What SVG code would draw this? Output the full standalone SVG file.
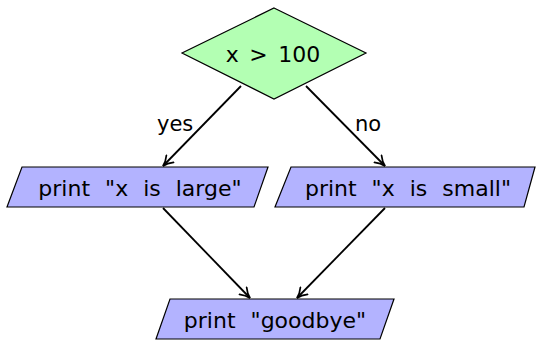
<svg xmlns="http://www.w3.org/2000/svg" width="537" height="341" viewBox="0 0 537 341">
  <style>
    .decision { fill: #b3ffb3; stroke: #000; stroke-width: 1.2; }
    .io { fill: #b3b3ff; stroke: #000; stroke-width: 1.2; }
    .label { font-family: "DejaVu Sans", "Liberation Sans", sans-serif; font-size: 22px; fill: #000; text-anchor: middle; }
    .edge { stroke: #000; stroke-width: 1.8; fill: none; marker-end: url(#arrow); }
    .edgelabel { font-family: "DejaVu Sans", "Liberation Sans", sans-serif; font-size: 21px; fill: #000; }
  </style>
  <defs>
    <marker id="arrow" viewBox="0 0 12 12" refX="11" refY="6" markerWidth="12" markerHeight="12" markerUnits="userSpaceOnUse" orient="auto">
      <path d="M1,1 Q6,5 11,6 Q6,7 1,11" fill="none" stroke="#000" stroke-width="1.7" stroke-linecap="round"/>
    </marker>
  </defs>

  <g id="decision">
    <polygon class="decision" points="274,8 366,53 274,99 182,53"/>
    <text class="label" x="273" y="62" word-spacing="3.5">x &gt; 100</text>
  </g>

  <g id="print-large">
    <polygon class="io" points="22,167 268,167 254,207 7,207"/>
    <text class="label" x="140" y="196" word-spacing="8">print "x is large"</text>
  </g>

  <g id="print-small">
    <polygon class="io" points="291,167 535,167 524,207 275,207"/>
    <text class="label" x="408" y="196" word-spacing="8">print "x is small"</text>
  </g>

  <g id="print-goodbye">
    <polygon class="io" points="170,299 394,299 380,339 156,339"/>
    <text class="label" x="275" y="328" word-spacing="8">print "goodbye"</text>
  </g>

  <g id="connectors">
    <line class="edge" x1="241" y1="86" x2="163" y2="166"/>
    <line class="edge" x1="306" y1="86" x2="385" y2="166"/>
    <line class="edge" x1="163" y1="208" x2="250" y2="298"/>
    <line class="edge" x1="385" y1="208" x2="297" y2="298"/>
    <text class="edgelabel" x="157" y="131">yes</text>
    <text class="edgelabel" x="355" y="131">no</text>
  </g>
</svg>
